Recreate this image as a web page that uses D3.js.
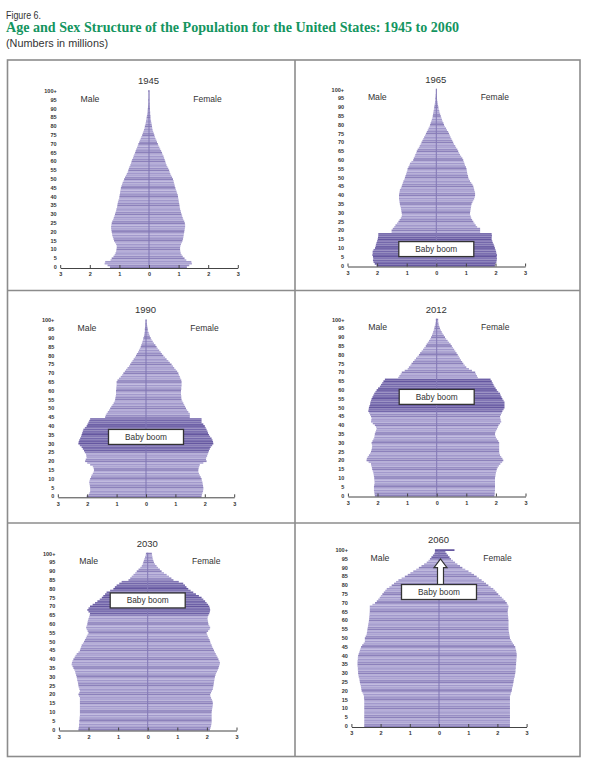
<!DOCTYPE html>
<html><head><meta charset="utf-8">
<script src="https://cdn.jsdelivr.net/npm/d3@7"></script>
<style>body{margin:0;background:#fff}svg{display:block}</style>
</head><body><svg id="c" width="589" height="768"></svg>
<script>
// ---------------- DATA (millions, single years of age 0..100+) ----------------
const years = ["1945","1965","1990","2012","2030","2060"];
const ageTickLabels = ["0","5","10","15","20","25","30","35","40","45","50","55","60","65","70","75","80","85","90","95","100+"];
const xTickValues = [-3,-2,-1,0,1,2,3];
const xTickLabels = ["3","2","1","0","1","2","3"];

const male1945 = [1.32,1.40,1.50,1.48,1.30,1.26,1.20,1.16,1.13,1.11,1.10,1.09,1.09,1.11,1.15,1.18,1.20,1.22,1.24,1.25,1.26,1.27,1.28,1.28,1.27,1.26,1.24,1.21,1.19,1.17,1.15,1.13,1.11,1.10,1.08,1.07,1.06,1.05,1.03,1.01,1.00,0.99,0.98,0.97,0.96,0.95,0.93,0.91,0.89,0.86,0.84,0.81,0.78,0.75,0.72,0.70,0.68,0.66,0.63,0.61,0.59,0.57,0.54,0.52,0.50,0.47,0.45,0.43,0.40,0.38,0.36,0.33,0.31,0.28,0.26,0.23,0.21,0.19,0.17,0.15,0.14,0.12,0.11,0.10,0.09,0.08,0.07,0.06,0.05,0.05,0.04,0.03,0.03,0.02,0.02,0.02,0.01,0.01,0.01,0.01,0.02];
const female1945 = [1.28,1.36,1.45,1.43,1.26,1.20,1.14,1.10,1.07,1.06,1.05,1.05,1.06,1.08,1.11,1.13,1.15,1.16,1.17,1.18,1.19,1.20,1.21,1.22,1.22,1.21,1.19,1.16,1.14,1.12,1.10,1.08,1.07,1.05,1.04,1.03,1.02,1.01,1.00,0.99,0.98,0.97,0.95,0.93,0.91,0.89,0.87,0.86,0.84,0.83,0.81,0.78,0.75,0.72,0.70,0.68,0.65,0.62,0.59,0.57,0.55,0.53,0.51,0.49,0.46,0.44,0.41,0.38,0.35,0.32,0.30,0.27,0.25,0.22,0.20,0.18,0.16,0.14,0.12,0.11,0.10,0.09,0.08,0.07,0.06,0.05,0.05,0.04,0.04,0.03,0.03,0.02,0.02,0.02,0.01,0.01,0.01,0.01,0.01,0.01,0.01];

const male1965 = [2.02,2.08,2.12,2.14,2.13,2.14,2.16,2.15,2.15,2.12,2.07,2.05,2.04,2.02,2.00,1.98,1.97,1.96,1.96,1.51,1.51,1.47,1.42,1.38,1.33,1.28,1.24,1.20,1.17,1.16,1.17,1.18,1.19,1.20,1.22,1.23,1.24,1.25,1.26,1.26,1.26,1.25,1.24,1.23,1.20,1.17,1.15,1.13,1.11,1.08,1.06,1.04,1.02,1.00,0.98,0.97,0.94,0.91,0.89,0.84,0.78,0.76,0.73,0.71,0.68,0.66,0.63,0.59,0.56,0.53,0.50,0.47,0.44,0.41,0.38,0.35,0.32,0.29,0.26,0.23,0.21,0.19,0.17,0.15,0.13,0.12,0.11,0.10,0.09,0.08,0.07,0.06,0.05,0.04,0.03,0.03,0.02,0.02,0.01,0.01,0.01];
const female1965 = [1.98,2.00,2.03,2.04,2.05,2.04,2.05,2.03,2.02,2.00,1.98,1.96,1.94,1.91,1.89,1.87,1.87,1.88,1.87,1.48,1.48,1.48,1.38,1.33,1.29,1.25,1.21,1.18,1.16,1.14,1.14,1.15,1.16,1.17,1.18,1.19,1.22,1.25,1.28,1.30,1.31,1.31,1.30,1.28,1.27,1.25,1.22,1.18,1.14,1.11,1.08,1.07,1.05,1.04,1.03,1.02,1.00,0.97,0.95,0.93,0.91,0.88,0.84,0.80,0.77,0.74,0.71,0.67,0.64,0.60,0.57,0.54,0.51,0.48,0.46,0.43,0.40,0.36,0.33,0.29,0.26,0.24,0.21,0.19,0.17,0.15,0.13,0.11,0.10,0.08,0.07,0.06,0.05,0.04,0.03,0.02,0.02,0.01,0.01,0.01,0.01];

const male1990 = [2.02,1.95,1.92,1.90,1.90,1.90,1.91,1.92,1.93,1.92,1.90,1.87,1.85,1.81,1.78,1.77,1.78,1.81,1.90,2.00,2.07,2.05,2.02,2.03,2.04,2.08,2.11,2.15,2.19,2.25,2.30,2.29,2.27,2.24,2.21,2.19,2.17,2.15,2.13,2.08,2.02,1.99,1.96,1.93,1.90,1.39,1.37,1.34,1.30,1.26,1.22,1.18,1.14,1.10,1.07,1.05,1.04,1.03,1.02,1.02,1.02,1.01,1.01,1.00,1.00,1.00,0.97,0.92,0.86,0.81,0.77,0.72,0.68,0.63,0.58,0.54,0.50,0.46,0.42,0.38,0.34,0.31,0.27,0.24,0.21,0.18,0.16,0.14,0.12,0.10,0.09,0.07,0.06,0.05,0.04,0.04,0.03,0.02,0.02,0.01,0.01];
const female1990 = [1.89,1.90,1.92,1.94,1.95,1.95,1.94,1.93,1.92,1.90,1.89,1.86,1.83,1.80,1.78,1.78,1.79,1.81,1.83,1.95,2.06,2.04,2.05,2.08,2.10,2.12,2.14,2.17,2.20,2.25,2.29,2.28,2.26,2.23,2.18,2.14,2.11,2.09,2.06,2.03,2.00,1.95,1.89,1.89,1.89,1.49,1.49,1.49,1.44,1.40,1.36,1.33,1.30,1.27,1.24,1.21,1.20,1.20,1.19,1.19,1.19,1.20,1.20,1.21,1.21,1.21,1.20,1.17,1.15,1.12,1.10,1.06,1.01,0.96,0.92,0.87,0.81,0.76,0.70,0.65,0.59,0.54,0.50,0.45,0.40,0.36,0.32,0.27,0.23,0.19,0.16,0.13,0.11,0.09,0.07,0.06,0.05,0.04,0.03,0.02,0.02];

const male2012 = [2.09,2.10,2.11,2.12,2.12,2.12,2.11,2.10,2.10,2.11,2.11,2.12,2.13,2.14,2.16,2.18,2.19,2.21,2.22,2.30,2.37,2.36,2.33,2.29,2.25,2.22,2.20,2.19,2.18,2.19,2.20,2.17,2.14,2.11,2.10,2.09,2.07,2.05,2.03,2.05,2.09,2.16,2.22,2.21,2.20,2.22,2.25,2.28,2.31,2.30,2.29,2.27,2.25,2.24,2.22,2.20,2.17,2.14,2.11,2.07,2.03,1.98,1.92,1.88,1.84,1.80,1.75,1.30,1.26,1.22,1.18,1.08,0.98,0.94,0.89,0.85,0.80,0.75,0.70,0.65,0.60,0.56,0.51,0.46,0.42,0.37,0.34,0.30,0.26,0.22,0.19,0.16,0.14,0.12,0.10,0.08,0.07,0.05,0.04,0.03,0.03];
const female2012 = [1.95,1.96,1.96,1.97,1.97,1.97,1.97,1.97,1.97,1.97,1.97,1.98,1.99,2.00,2.02,2.03,2.06,2.10,2.15,2.21,2.25,2.22,2.18,2.14,2.12,2.11,2.11,2.11,2.11,2.11,2.11,2.08,2.04,2.00,1.98,1.97,1.98,2.01,2.04,2.07,2.09,2.14,2.18,2.16,2.15,2.14,2.17,2.20,2.22,2.26,2.29,2.29,2.29,2.29,2.26,2.22,2.19,2.16,2.14,2.08,2.03,1.99,1.95,1.92,1.89,1.86,1.82,1.39,1.36,1.33,1.30,1.19,1.09,1.00,0.95,0.90,0.86,0.82,0.78,0.75,0.71,0.67,0.63,0.59,0.55,0.51,0.47,0.42,0.37,0.32,0.28,0.24,0.20,0.17,0.14,0.11,0.09,0.07,0.06,0.05,0.05];

const male2030 = [2.34,2.33,2.32,2.32,2.31,2.31,2.30,2.30,2.29,2.29,2.29,2.29,2.29,2.29,2.29,2.29,2.29,2.29,2.29,2.32,2.34,2.31,2.29,2.31,2.33,2.34,2.35,2.36,2.38,2.39,2.40,2.42,2.44,2.45,2.48,2.51,2.54,2.57,2.56,2.54,2.51,2.47,2.44,2.40,2.34,2.29,2.27,2.25,2.23,2.19,2.15,2.12,2.09,2.06,2.03,2.00,2.03,2.06,2.08,2.06,2.04,2.03,2.02,2.00,1.98,1.96,1.95,2.00,2.04,2.00,1.95,1.86,1.78,1.70,1.62,1.55,1.50,1.44,1.39,1.27,1.16,1.11,1.05,0.96,0.88,0.65,0.59,0.54,0.48,0.42,0.37,0.31,0.25,0.20,0.17,0.15,0.13,0.11,0.09,0.07,0.06];
const female2030 = [2.10,2.12,2.14,2.15,2.16,2.16,2.16,2.16,2.16,2.16,2.16,2.17,2.18,2.19,2.20,2.20,2.19,2.17,2.14,2.12,2.11,2.14,2.17,2.20,2.21,2.22,2.23,2.24,2.25,2.26,2.27,2.29,2.31,2.34,2.37,2.39,2.41,2.43,2.44,2.42,2.39,2.36,2.33,2.30,2.27,2.24,2.21,2.18,2.16,2.13,2.11,2.09,2.06,2.03,2.01,1.99,2.04,2.09,2.11,2.08,2.05,2.04,2.03,2.02,2.03,2.05,2.08,2.10,2.11,2.10,2.08,2.04,1.99,1.94,1.88,1.82,1.73,1.63,1.54,1.45,1.37,1.31,1.26,1.20,1.05,0.87,0.80,0.72,0.64,0.55,0.47,0.41,0.35,0.30,0.25,0.21,0.19,0.17,0.16,0.15,0.14];

const male2060 = [2.56,2.56,2.56,2.56,2.56,2.56,2.56,2.56,2.56,2.56,2.56,2.56,2.56,2.56,2.56,2.56,2.57,2.57,2.59,2.62,2.65,2.66,2.67,2.68,2.70,2.71,2.72,2.73,2.75,2.76,2.77,2.77,2.78,2.78,2.79,2.79,2.79,2.79,2.78,2.78,2.77,2.75,2.73,2.71,2.69,2.67,2.63,2.58,2.54,2.54,2.54,2.51,2.48,2.47,2.46,2.45,2.44,2.43,2.42,2.41,2.40,2.39,2.39,2.38,2.38,2.37,2.37,2.37,2.37,2.28,2.19,2.13,2.08,2.03,1.99,1.94,1.89,1.84,1.79,1.70,1.62,1.54,1.47,1.39,1.28,1.17,1.07,0.98,0.88,0.78,0.69,0.60,0.51,0.42,0.36,0.31,0.26,0.21,0.16,0.14,0.14];
const female2060 = [2.43,2.43,2.43,2.43,2.43,2.43,2.43,2.43,2.43,2.43,2.43,2.43,2.43,2.43,2.43,2.43,2.43,2.43,2.45,2.47,2.49,2.50,2.51,2.53,2.54,2.55,2.56,2.57,2.59,2.60,2.61,2.62,2.62,2.63,2.63,2.64,2.64,2.65,2.65,2.66,2.66,2.66,2.65,2.64,2.62,2.61,2.57,2.53,2.49,2.46,2.43,2.42,2.41,2.40,2.39,2.38,2.38,2.38,2.38,2.38,2.38,2.37,2.37,2.36,2.36,2.35,2.36,2.37,2.38,2.35,2.32,2.27,2.21,2.15,2.09,2.03,1.97,1.92,1.86,1.77,1.69,1.61,1.54,1.46,1.37,1.29,1.20,1.11,1.01,0.90,0.80,0.72,0.63,0.55,0.48,0.41,0.36,0.31,0.26,0.22,0.53];

const maleSeries = [male1945, male1965, male1990, male2012, male2030, male2060];
const femaleSeries = [female1945, female1965, female1990, female2012, female2030, female2060];
// baby boom cohort (age range) and label placement age per panel
const boomStart = [null, 0, 26, 48, 66, 96];
const boomEnd   = [null, 18, 44, 66, 84, 100];
const boomLabelAge = [null, 9.9, 34.3, 56.6, 73.9, 76.7];

// ---------------- LAYOUT ----------------
const layout = [
  {cx:149,   yb:268,   k:29.6},
  {cx:436.3, yb:266.5, k:29.6},
  {cx:146,   yb:497.3, k:29.4},
  {cx:436.7, yb:496.5, k:29.6},
  {cx:147.7, yb:730.5, k:29.6},
  {cx:439,   yb:727,   k:29.2}
];
const yearPx = 1.76;
const normalCols = ["#8c81bb","#988ec4","#ada5d3","#a299cc","#b6aed9"];
const boomCols   = ["#6557a0","#6e61a7","#7b6fb0","#7468ab","#8276b5"];

const svg = d3.select("#c");
const font = "'Liberation Sans', Arial, sans-serif";

// header
svg.append("text").attr("x",6).attr("y",19).attr("font-family",font).attr("font-size",11)
  .attr("fill","#333").attr("textLength",35).attr("lengthAdjust","spacingAndGlyphs").text("Figure 6.");
svg.append("text").attr("x",6).attr("y",32).attr("font-family","'Liberation Serif', serif")
  .attr("font-weight","bold").attr("font-size",14).attr("fill","#14955f")
  .attr("textLength",453).attr("lengthAdjust","spacingAndGlyphs")
  .text("Age and Sex Structure of the Population for the United States: 1945 to 2060");
svg.append("text").attr("x",6).attr("y",46.5).attr("font-family",font).attr("font-size",10.5)
  .attr("fill","#333").attr("textLength",102).attr("lengthAdjust","spacingAndGlyphs").text("(Numbers in millions)");

// frame
const frame = svg.append("g").attr("stroke","#8c8c8c").attr("stroke-width",1.6).attr("fill","none");
frame.append("rect").attr("x",7.5).attr("y",60).attr("width",572.5).attr("height",696.5);
frame.append("line").attr("x1",295).attr("x2",295).attr("y1",60).attr("y2",756.5);
frame.append("line").attr("x1",7.5).attr("x2",580).attr("y1",290.5).attr("y2",290.5);
frame.append("line").attr("x1",7.5).attr("x2",580).attr("y1",523).attr("y2",523);

years.forEach((yr, p) => {
  const L = layout[p];
  const x = d3.scaleLinear().domain([-3,3]).range([L.cx - 3*L.k, L.cx + 3*L.k]);
  const y = d3.scaleLinear().domain([0,101]).range([L.yb, L.yb - 101*yearPx]);
  const g = svg.append("g");
  const males = maleSeries[p], females = femaleSeries[p];
  const isBoom = a => boomStart[p] !== null && a >= boomStart[p] && a <= boomEnd[p];
  const col = a => (isBoom(a) ? boomCols : normalCols)[a % 5];
  const ages = d3.range(males.length);

  g.selectAll("rect.m").data(ages).join("rect").attr("class","m")
    .attr("x", a => x(-males[a])).attr("width", a => x(0) - x(-males[a]))
    .attr("y", a => y(a+1)).attr("height", a => y(a) - y(a+1)).attr("fill", col);
  g.selectAll("rect.f").data(ages).join("rect").attr("class","f")
    .attr("x", x(0)).attr("width", a => x(females[a]) - x(0))
    .attr("y", a => y(a+1)).attr("height", a => y(a) - y(a+1)).attr("fill", col);

  // center line
  g.append("line").attr("x1",x(0)).attr("x2",x(0)).attr("y1",y(0)).attr("y2",y(101))
    .attr("stroke","#7f74b3").attr("stroke-width",1);

  // x axis
  const ax = g.append("g").attr("transform",`translate(0,${L.yb})`)
    .call(d3.axisBottom(x).tickValues(xTickValues).tickFormat((d,i)=>xTickLabels[i])
      .tickSizeInner(-3).tickSizeOuter(0).tickPadding(4.5));
  ax.select(".domain").attr("stroke","#444").attr("stroke-width",1);
  ax.selectAll(".tick line").attr("stroke","#444");
  ax.selectAll(".tick text").attr("font-family",font).attr("font-size",5.5).attr("font-weight","bold").attr("fill","#333");

  // age labels
  g.selectAll("text.age").data(ageTickLabels).join("text").attr("class","age")
    .attr("x", x(-3) - 3.5).attr("y", (d,i) => y(i*5 + 0.5)).attr("dy","0.35em")
    .attr("text-anchor","end").attr("font-family",font).attr("font-size",5.5)
    .attr("font-weight","bold").attr("fill","#333").text(d => d);

  // titles
  g.append("text").attr("x", x(0) - 0.5).attr("y", L.yb - 184).attr("text-anchor","middle")
    .attr("font-family",font).attr("font-size",9.5).attr("fill","#333").text(yr);
  g.append("text").attr("x", x(0) - 59).attr("y", L.yb - 166.5).attr("text-anchor","middle")
    .attr("font-family",font).attr("font-size",8.7).attr("fill","#333").text("Male");
  g.append("text").attr("x", x(0) + 58.5).attr("y", L.yb - 166.5).attr("text-anchor","middle")
    .attr("font-family",font).attr("font-size",8.5).attr("fill","#333").text("Female");

  // baby boom label
  if (boomLabelAge[p] !== null) {
    const by = y(boomLabelAge[p]);
    const bx = x(0);
    if (p === 5) {
      // arrow pointing to the oldest ages
      const top = y(95.5), headBase = y(90.5), boxTop = by - 7.5;
      const c = bx + 1.5;
      g.append("path").attr("d",
        `M${c-3},${boxTop} L${c-3},${headBase} L${c-6.5},${headBase} L${c},${top} L${c+6.5},${headBase} L${c+3},${headBase} L${c+3},${boxTop} Z`)
        .attr("fill","#fff").attr("stroke","#333").attr("stroke-width",1.2);
    }
    g.append("rect").attr("x", bx - 37.5).attr("y", by - 7.5).attr("width",75).attr("height",15)
      .attr("fill","#fff").attr("stroke","#333").attr("stroke-width",1.3);
    g.append("text").attr("x", bx).attr("y", by).attr("dy","0.35em").attr("text-anchor","middle")
      .attr("font-family",font).attr("font-size",8.3).attr("fill","#333").text("Baby boom");
  }
});
</script></body></html>
